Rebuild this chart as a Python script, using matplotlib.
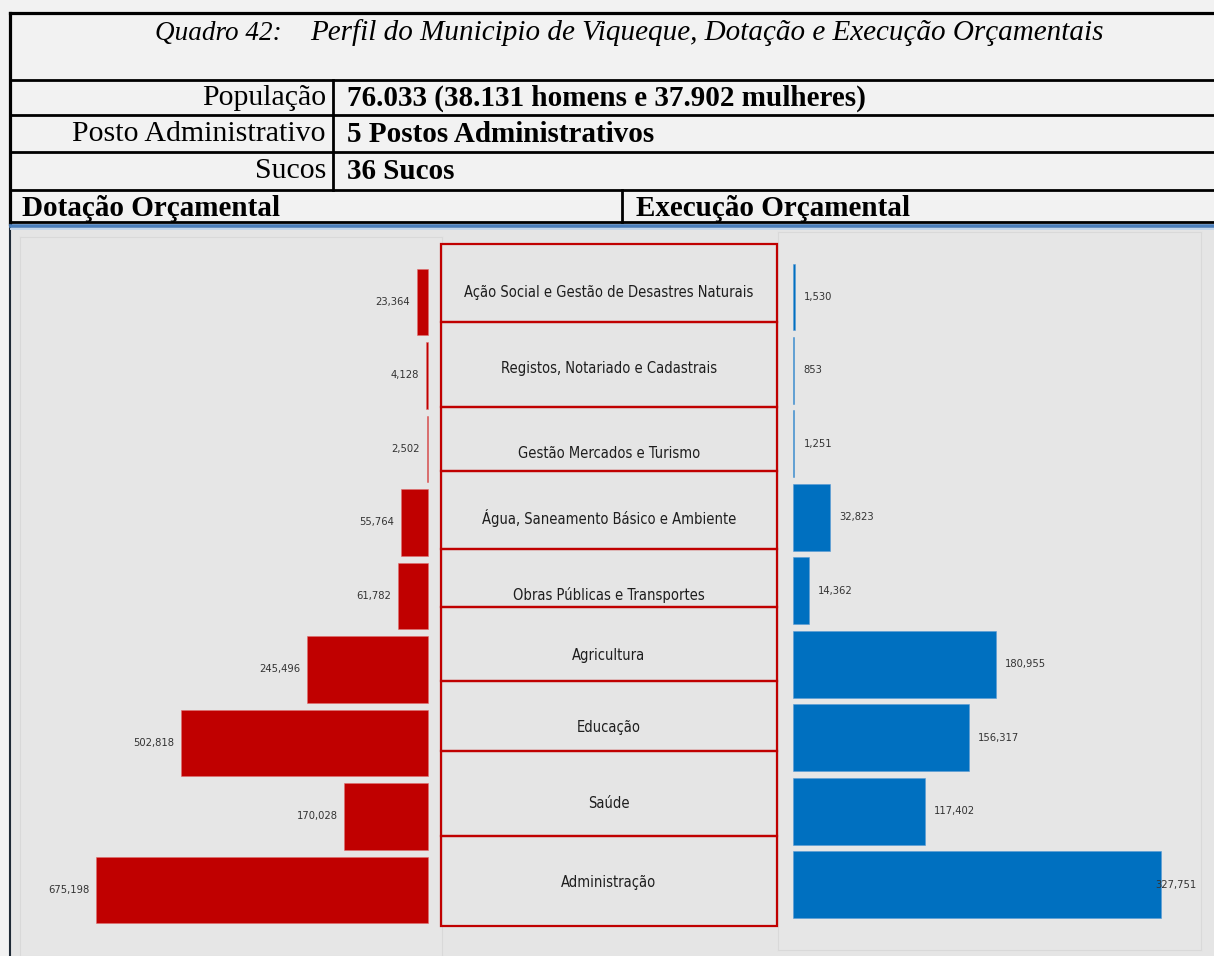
import matplotlib
matplotlib.use("Agg")
import matplotlib.pyplot as plt
import matplotlib.font_manager as fm
from matplotlib.patches import Rectangle

# ----------------------------
# Dados
# ----------------------------
titulo_num = "Quadro 42:"
titulo = "Perfil do Municipio de Viqueque, Dotação e Execução Orçamentais"

perfil_rotulos = ["População", "Posto Administrativo", "Sucos"]
perfil_valores = ["76.033 (38.131 homens e 37.902 mulheres)",
                  "5 Postos Administrativos",
                  "36 Sucos"]

cab_esq = "Dotação Orçamental"
cab_dir = "Execução Orçamental"

categorias = ["Ação Social e Gestão de Desastres Naturais",
              "Registos, Notariado e Cadastrais",
              "Gestão Mercados e Turismo",
              "Água, Saneamento Básico e Ambiente",
              "Obras Públicas e Transportes",
              "Agricultura",
              "Educação",
              "Saúde",
              "Administração"]

dotacao = [23364, 4128, 2502, 55764, 61782, 245496, 502818, 170028, 675198]
execucao = [1530, 853, 1251, 32823, 14362, 180955, 156317, 117402, 327751]

# ----------------------------
# Layout (pixel)
# ----------------------------
W, H = 1214, 956
VERMELHO = "#c00000"
AZUL = "#0070c0"
FUNDO = "#f2f2f2"
FUNDO_GRAF = "#e5e5e5"

# caixas do centro (limites verticais) e posição dos rótulos
CAIXA_Y = [244, 322, 407, 471, 549, 607, 681, 751, 836, 926]
ROTULO_Y = [292, 368, 453, 518, 595, 655, 727, 803, 882]

# fonte estreita para o gráfico
nomes = {f.name for f in fm.fontManager.ttflist}
if "Liberation Sans Narrow" in nomes:
    NARROW = dict(family="Liberation Sans Narrow")
    TAM_CAT, TAM_VAL = 12.5, 10
else:
    NARROW = dict(family="DejaVu Sans", stretch="condensed")
    TAM_CAT, TAM_VAL = 10.5, 8
SERIF = "Liberation Serif"

fig = plt.figure(figsize=(W / 100, H / 100), dpi=100, facecolor=FUNDO)


def px_axes(x0, y0, x1, y1):
    return fig.add_axes([x0 / W, 1 - y1 / H, (x1 - x0) / W, (y1 - y0) / H])


# fundo em coordenadas de pixel
bg = fig.add_axes([0, 0, 1, 1])
bg.set_xlim(0, W)
bg.set_ylim(H, 0)
bg.axis("off")

bg.add_patch(Rectangle((11, 227), W - 11, H - 227, color=FUNDO_GRAF, zorder=0))

# linhas da tabela
lw = 2.0
bg.plot([9.5, W], [12.5, 12.5], color="black", lw=lw + 0.3)
bg.plot([9.5, 9.5], [12.5, 224], color="black", lw=lw + 0.3)
bg.plot([9.5, 9.5], [224, H], color="#1f2a36", lw=1.5)
for y in [80, 115, 152, 190, 222]:
    bg.plot([9.5, W], [y, y], color="black", lw=lw)
bg.plot([333, 333], [80, 190], color="black", lw=lw)
bg.plot([622, 622], [190, 222], color="black", lw=lw)
bg.plot([11, W], [225.5, 225.5], color="#4a7ebb", lw=2.6)
bg.plot([11, W], [228.5, 228.5], color="#c5d6ea", lw=1.4)

# textos da tabela
bg.text(155, 33, titulo_num, fontsize=19.5, family=SERIF, style="italic",
        ha="left", va="center")
bg.text(310, 33, titulo, fontsize=21, family=SERIF, style="italic",
        ha="left", va="center")
for y, rot, val in zip([98, 134, 171], perfil_rotulos, perfil_valores):
    bg.text(326, y, rot, fontsize=21.5, family=SERIF, ha="right", va="center")
    bg.text(347, y, val, fontsize=21, family=SERIF, weight="bold",
            ha="left", va="center")
bg.text(22, 208, cab_esq, fontsize=21, family=SERIF, weight="bold",
        ha="left", va="center")
bg.text(636, 208, cab_dir, fontsize=21, family=SERIF, weight="bold",
        ha="left", va="center")

linhas = list(range(len(categorias)))

# ----------------------------
# Dotação (esquerda, invertido)
# ----------------------------
axl = px_axes(20, 237, 442, 956)
axl.set_facecolor("#e6e6e6")
axl.barh(linhas, dotacao, height=0.91, color=VERMELHO, edgecolor="#e07070",
         linewidth=0.4)
axl.set_xlim(829750, -28470)
axl.set_ylim(8.898, -0.884)
for i, v in zip(linhas, dotacao):
    axl.annotate(f"{v:,}", (v, i), xytext=(-5, 0), textcoords="offset points",
                 ha="right", va="center", fontsize=TAM_VAL, color="#333333",
                 **NARROW)
axl.set_xticks([])
axl.set_yticks([])
for s in axl.spines.values():
    s.set_color("#d9d9d9")

# ----------------------------
# Execução (direita)
# ----------------------------
axr = px_axes(778, 232, 1201, 950)
axr.set_facecolor("#e6e6e6")
axr.barh(linhas, execucao, height=0.91, color=AZUL, edgecolor="#5a9bd5",
         linewidth=0.4)
axr.set_xlim(-13360, 363370)
axr.set_ylim(8.89, -0.885)
vmax = max(execucao)
for i, v in zip(linhas, execucao):
    if v == vmax:
        axr.text(0.99, i, f"{v:,}", transform=axr.get_yaxis_transform(),
                 ha="right", va="center", fontsize=TAM_VAL, color="#333333",
                 **NARROW)
    else:
        axr.annotate(f"{v:,}", (v, i), xytext=(6.5, 0),
                     textcoords="offset points", ha="left", va="center",
                     fontsize=TAM_VAL, color="#333333", **NARROW)
axr.set_xticks([])
axr.set_yticks([])
for s in axr.spines.values():
    s.set_color("#d9d9d9")

# ----------------------------
# Caixas das categorias (centro)
# ----------------------------
axc = px_axes(430, 232, 790, 956)
axc.set_xlim(430, 790)
axc.set_ylim(956, 232)
axc.axis("off")
for k, cat in enumerate(categorias):
    y0, y1 = CAIXA_Y[k], CAIXA_Y[k + 1]
    axc.add_patch(Rectangle((441, y0), 336, y1 - y0, fill=False,
                            edgecolor=VERMELHO, lw=1.6))
    axc.text(609, ROTULO_Y[k], cat, ha="center", va="center",
             fontsize=TAM_CAT, color="#1e1e1e", **NARROW)

fig.savefig("out.png", dpi=100, facecolor=FUNDO)
